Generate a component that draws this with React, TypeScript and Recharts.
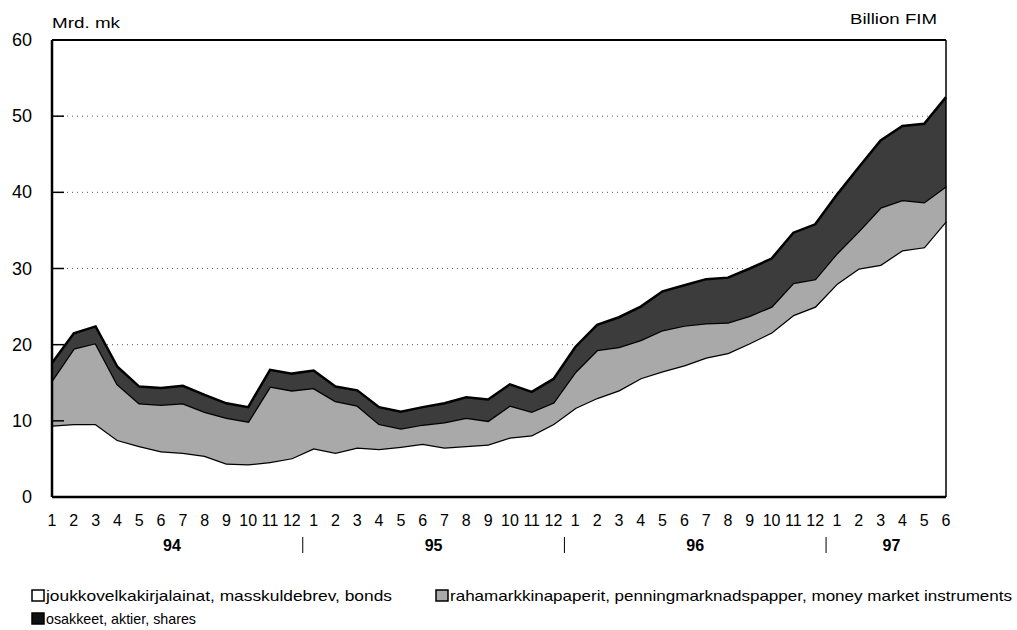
import {
  AreaChart,
  Area,
  XAxis,
  YAxis,
  CartesianGrid,
  ReferenceLine,
} from 'recharts';

// months along the axis, and the year each one belongs to
const months = [
  1, 2, 3, 4, 5, 6, 7, 8, 9, 10, 11, 12,
  1, 2, 3, 4, 5, 6, 7, 8, 9, 10, 11, 12,
  1, 2, 3, 4, 5, 6, 7, 8, 9, 10, 11, 12,
  1, 2, 3, 4, 5, 6,
];
const years = [
  '94', '94', '94', '94', '94', '94', '94', '94', '94', '94', '94', '94',
  '95', '95', '95', '95', '95', '95', '95', '95', '95', '95', '95', '95',
  '96', '96', '96', '96', '96', '96', '96', '96', '96', '96', '96', '96',
  '97', '97', '97', '97', '97', '97',
];

// Mrd. mk, stacked bottom to top
const bonds = [
  9.4, 9.6, 9.6, 7.5, 6.7, 6.0, 5.8, 5.4, 4.4, 4.3, 4.6, 5.1,
  6.4, 5.8, 6.5, 6.3, 6.6, 7.0, 6.5, 6.7, 6.9, 7.8, 8.1, 9.6,
  11.7, 13.0, 14.0, 15.6, 16.5, 17.3, 18.3, 18.9, 20.2, 21.6, 23.9, 25.0,
  28.0, 30.0, 30.5, 32.4, 32.8, 36.2,
];
const moneyMarket = [
  5.9, 9.9, 10.6, 7.3, 5.6, 6.1, 6.5, 5.8, 6.0, 5.6, 9.9, 8.9,
  7.9, 6.8, 5.5, 3.3, 2.4, 2.5, 3.3, 3.7, 3.1, 4.2, 3.1, 2.8,
  4.7, 6.3, 5.7, 5.0, 5.4, 5.2, 4.5, 4.0, 3.6, 3.4, 4.2, 3.6,
  4.0, 4.9, 7.5, 6.6, 5.9, 4.6,
];
const shares = [
  2.3, 2.0, 2.2, 2.3, 2.2, 2.2, 2.3, 2.2, 1.9, 1.9, 2.2, 2.2,
  2.3, 1.9, 2.0, 2.2, 2.2, 2.3, 2.5, 2.7, 2.8, 2.8, 2.6, 3.1,
  3.3, 3.3, 3.9, 4.4, 5.1, 5.3, 5.8, 5.9, 6.2, 6.3, 6.6, 7.2,
  7.7, 8.4, 8.8, 9.7, 10.3, 11.7,
];

const yTicks = [0, 10, 20, 30, 40, 50, 60];

const legendItems = [
  { label: 'joukkovelkakirjalainat, masskuldebrev, bonds', fill: '#ffffff', width: 346 },
  { label: 'rahamarkkinapaperit, penningmarknadspapper, money market instruments', fill: '#a9a9a9', width: 562 },
  { label: 'osakkeet, aktier, shares', fill: '#111111', width: 150 },
];

const data = months.map((m, i) => ({
  period: `${years[i]}-${m}`,
  month: m,
  year: years[i],
  bonds: bonds[i],
  moneyMarket: moneyMarket[i],
  shares: shares[i],
}));

const W = 1017;
const H = 630;
const PLOT_LEFT = 52;
const PLOT_RIGHT = 946;
const STEP = (PLOT_RIGHT - PLOT_LEFT) / (data.length - 1);
const FONT = "'Liberation Sans', Arial, sans-serif";

const MonthTick = (props: any) => {
  const { x, y, payload } = props;
  const i = data.findIndex(d => d.period === payload.value);
  if (i < 0) return null;
  const d = data[i];
  const n = years.filter(yy => yy === d.year).length;
  const showYear = d.month === Math.floor((n - 1) / 2) + 1;
  const showSep = d.month === 12 && i < data.length - 1;
  return (
    <g>
      <text x={x} y={y + 29} textAnchor="middle" fontSize={16} fontFamily={FONT} fill="#000">
        {d.month}
      </text>
      {showYear && (
        <text x={x + STEP / 2} y={y + 54} textAnchor="middle" fontSize={16} fontWeight="bold" fontFamily={FONT} fill="#000">
          {d.year}
        </text>
      )}
      {showSep && (
        <line x1={x + STEP / 2} x2={x + STEP / 2} y1={y + 40} y2={y + 56} stroke="#000" strokeWidth={1} />
      )}
    </g>
  );
};

const ValueTick = (props: any) => {
  const { y, payload } = props;
  const v = payload.value;
  return (
    <g>
      <text x={32} y={y + 6} textAnchor="end" fontSize={18} fontFamily={FONT} fill="#000">
        {v}
      </text>
      {v > 0 && v < 60 && (
        <line x1={PLOT_LEFT} x2={PLOT_LEFT + 12} y1={y} y2={y} stroke="#000" strokeWidth={1.5} />
      )}
    </g>
  );
};

export default function App() {
  return (
    <div style={{ position: 'absolute', left: 0, top: 0, width: W, height: H, background: '#fff' }}>
      <AreaChart
        width={W}
        height={H}
        data={data}
        margin={{ top: 40, right: W - PLOT_RIGHT, bottom: 73, left: 0 }}
      >
        <CartesianGrid horizontal vertical={false} stroke="#555" strokeDasharray="1 4" />
        <XAxis
          dataKey="period"
          interval={0}
          height={60}
          tickSize={0}
          tickMargin={0}
          tickLine={false}
          axisLine={{ stroke: '#000', strokeWidth: 2.5 }}
          tick={<MonthTick />}
        />
        <YAxis
          domain={[0, 60]}
          ticks={yTicks}
          width={PLOT_LEFT}
          tickLine={false}
          axisLine={{ stroke: '#000', strokeWidth: 2.5 }}
          tick={<ValueTick />}
        />
        <Area
          type="linear"
          dataKey="bonds"
          stackId="a"
          fill="#ffffff"
          fillOpacity={1}
          stroke="#000"
          strokeWidth={2.5}
          isAnimationActive={false}
        />
        <Area
          type="linear"
          dataKey="moneyMarket"
          stackId="a"
          fill="#a9a9a9"
          fillOpacity={1}
          stroke="#000"
          strokeWidth={2.5}
          isAnimationActive={false}
        />
        <Area
          type="linear"
          dataKey="shares"
          stackId="a"
          fill="#3c3c3c"
          fillOpacity={1}
          stroke="#000"
          strokeWidth={2.5}
          isAnimationActive={false}
        />
        <ReferenceLine y={60} stroke="#000" strokeWidth={2} />
        <ReferenceLine x={data[data.length - 1].period} stroke="#000" strokeWidth={1.5} />
      </AreaChart>
      <svg
        width={W}
        height={H}
        style={{ position: 'absolute', left: 0, top: 0, pointerEvents: 'none' }}
        fontFamily={FONT}
      >
        <text x={52} y={28} fontSize={15} textLength={68} lengthAdjust="spacingAndGlyphs">Mrd. mk</text>
        <text x={850} y={24} fontSize={15} textLength={87} lengthAdjust="spacingAndGlyphs">Billion FIM</text>
        {legendItems.map((item, i) => {
          const lx = i === 1 ? 436 : 32;
          const ly = i === 2 ? 619 : 596;
          return (
            <g key={item.label}>
              <rect x={lx} y={ly - 6} width={12} height={11} fill={item.fill} stroke="#000" strokeWidth={1.5} />
              <text
                x={lx + 14}
                y={ly + 5}
                fontSize={15}
                textLength={item.width}
                lengthAdjust="spacingAndGlyphs"
              >
                {item.label}
              </text>
            </g>
          );
        })}
      </svg>
    </div>
  );
}
